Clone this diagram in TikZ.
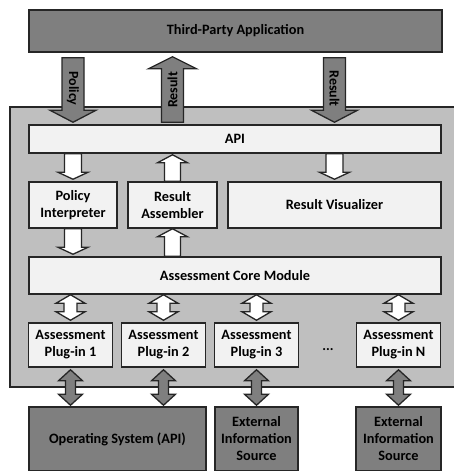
\documentclass[tikz,border=0pt]{standalone}
\usepackage{fontspec}
\setmainfont{Carlito}
\usetikzlibrary{calc}

\definecolor{edge}{HTML}{262626}
\definecolor{midgray}{HTML}{7F7F7F}
\definecolor{framegray}{HTML}{BFBFBF}
\definecolor{boxwhite}{HTML}{F2F2F2}

% fat arrow : [style]{from}{to}{shaft half width}{head half width}{head length}
\newcommand{\fatarrow}[6][]{%
  \draw[#1] let \p1=(#2), \p2=(#3), \p3=($(\p2)!#6!(\p1)$) in
    (\x2,\y2) -- (\x2+#5,\y3) -- (\x2+#4,\y3) -- (\x1+#4,\y1)
    -- (\x1-#4,\y1) -- (\x2-#4,\y3) -- (\x2-#5,\y3) -- cycle;}

% fat arrow with two heads
\newcommand{\fatboth}[6][]{%
  \draw[#1] let \p1=(#2), \p2=(#3), \p3=($(\p2)!#6!(\p1)$), \p4=($(\p1)!#6!(\p2)$) in
    (\x2,\y2) -- (\x2+#5,\y3) -- (\x2+#4,\y3) -- (\x1+#4,\y4) -- (\x1+#5,\y4)
    -- (\x1,\y1) -- (\x1-#5,\y4) -- (\x1-#4,\y4) -- (\x2-#4,\y3) -- (\x2-#5,\y3) -- cycle;}

\begin{document}
\begin{tikzpicture}[x=1pt,y=-1pt,
  box/.style={draw=edge, line width=1.5pt, fill=boxwhite, align=center, inner sep=0pt,
    font=\fontsize{14.3}{17}\selectfont\bfseries},
  darkbox/.style={box, fill=midgray},
  frame/.style={draw=edge, line width=1.5pt, fill=framegray},
  grayarrow/.style={draw=edge, line width=1.3pt, fill=midgray},
  whitearrow/.style={draw=edge, line width=1.3pt, fill=white},
  arrowlabel/.style={font=\fontsize{14}{16}\selectfont\bfseries}]

\useasboundingbox (0,0) rectangle (454,471);
\clip (0,0) rectangle (454,471);

% -------------------------------------------------
% Application and container
% -------------------------------------------------
\node[darkbox, minimum width=413pt, minimum height=42pt] (tpa) at (235.5,31) {Third-Party Application};
\draw[frame] (10,107) rectangle (456,387);

% -------------------------------------------------
% Modules
% -------------------------------------------------
\node[box, minimum width=412pt, minimum height=28pt] (api) at (235,139) {API};
\node[box, minimum width=88pt, minimum height=46pt] (pi) at (73,205) {Policy\\Interpreter};
\node[box, minimum width=89pt, minimum height=46pt] (ra) at (172.5,205) {Result\\Assembler};
\node[box, minimum width=213pt, minimum height=46pt] (rv) at (334.5,205) {Result Visualizer};
\node[box, minimum width=412pt, minimum height=37pt] (core) at (235,275.5) {Assessment Core Module};

% -------------------------------------------------
% Plug-ins
% -------------------------------------------------
\foreach \k/\x/\t in {1/70.5/1, 2/163.5/2, 3/256.5/3, 4/398.5/N}
  \node[box, minimum width=84pt, minimum height=44pt] (plug\k) at (\x,345) {Assessment\\Plug-in \t};
\node[font=\fontsize{14}{17}\selectfont\bfseries] (dots) at (328,350) {...};

% -------------------------------------------------
% Sources
% -------------------------------------------------
\node[darkbox, minimum width=177pt, minimum height=64pt] (os) at (117.5,439) {Operating System (API)};
\node[darkbox, minimum width=83pt, minimum height=64pt] (src3) at (256.5,439) {External\\Information\\Source};
\node[darkbox, minimum width=85pt, minimum height=64pt] (srcN) at (398.5,439) {External\\Information\\Source};

% -------------------------------------------------
% Arrows application <-> API
% -------------------------------------------------
\fatarrow[grayarrow]{$(tpa.south -| pi)+(0,5)$}{$(api.north -| pi)+(0,-2)$}{11pt}{23pt}{12pt}
\fatarrow[grayarrow]{$(api.north -| ra)+(0,-2)$}{$(tpa.south -| ra)+(0,4)$}{11pt}{24pt}{12pt}
\fatarrow[grayarrow]{$(tpa.south -| rv)+(0,5)$}{$(api.north -| rv)+(0,-2)$}{11pt}{23pt}{12pt}
\node[arrowlabel, rotate=-90] (lpolicy) at ($(tpa.south -| pi)!0.5!(api.north -| pi)$) {Policy};
\node[arrowlabel, rotate=90] (lresult) at ($(tpa.south -| ra)!0.52!(api.north -| ra)$) {Result};
\node[arrowlabel, rotate=-90] (lvisual) at ($(tpa.south -| rv)!0.5!(api.north -| rv)$) {Result};

% -------------------------------------------------
% Arrows between modules
% -------------------------------------------------
\fatarrow[whitearrow]{api.south -| pi}{$(pi.north)+(0,-2)$}{8.5pt}{15pt}{7pt}
\fatarrow[whitearrow]{ra.north}{$(api.south -| ra)+(0,1)$}{8pt}{15pt}{8pt}
\fatarrow[whitearrow]{api.south -| rv}{$(rv.north)+(0,-2)$}{8.5pt}{15pt}{7pt}
\fatarrow[whitearrow]{pi.south}{$(core.north -| pi)+(0,-2)$}{8.5pt}{15pt}{7pt}
\fatarrow[whitearrow]{core.north -| ra}{ra.south}{8pt}{15pt}{8pt}

\foreach \k in {1,...,4}
  \fatboth[whitearrow]{core.south -| plug\k}{$(plug\k.north)+(0,-2)$}{6.5pt}{14.5pt}{8.5pt};

% -------------------------------------------------
% Arrows plug-ins <-> sources
% -------------------------------------------------
\fatboth[grayarrow]{$(plug1.south)+(0,2)$}{$(os.north -| plug1)+(0,-1)$}{5pt}{12pt}{11pt}
\fatboth[grayarrow]{$(plug2.south)+(0,2)$}{$(os.north -| plug2)+(0,-1)$}{5pt}{12pt}{11pt}
\fatboth[grayarrow]{$(plug3.south)+(0,2)$}{$(src3.north)+(0,-1)$}{5pt}{12pt}{11pt}
\fatboth[grayarrow]{$(plug4.south)+(0,2)$}{$(srcN.north)+(0,-1)$}{5pt}{12pt}{11pt}

\end{tikzpicture}
\end{document}
